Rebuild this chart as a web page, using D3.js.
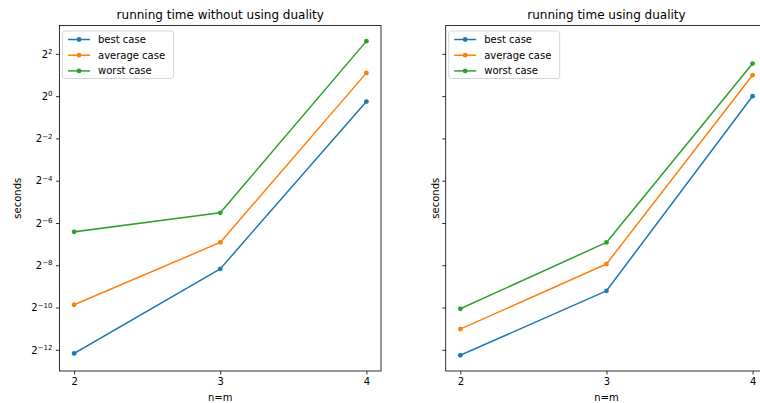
<!DOCTYPE html>
<html>
<head>
<meta charset="utf-8">
<script src="https://cdn.jsdelivr.net/npm/d3@7"></script>
<style>
  html, body { margin: 0; padding: 0; background: #fff; }
  svg { display: block; font-family: "DejaVu Sans", sans-serif; }
</style>
</head>
<body>
<svg id="chart" width="760" height="403"></svg>
<script>
// Problem size n=m on the x axis
const sizes = [2, 3, 4];
const seriesNames = ["best case", "average case", "worst case"];
const seriesColors = ["#1f77b4", "#ff7f0e", "#2ca02c"];

// Running times in seconds, without duality
const bestNoDual = [0.000217, 0.00347, 0.838];
const avgNoDual = [0.00107, 0.00826, 2.14];
const worstNoDual = [0.0117, 0.0218, 6.06];

// Running times in seconds, using duality
const bestDual = [0.000204, 0.00169, 1.0];
const avgDual = [0.000482, 0.00407, 1.99];
const worstDual = [0.000937, 0.00826, 2.91];

// Tick exponents for the base-2 log axis and x tick labels
const yTickExponents = [-12, -10, -8, -6, -4, -2, 0, 2];
const xTickLabels = ["2", "3", "4"];

const panels = [
  { title: "running time without using duality", series: [bestNoDual, avgNoDual, worstNoDual], left: 59.5, showYLabels: true },
  { title: "running time using duality", series: [bestDual, avgDual, worstDual], left: 445.7, showYLabels: false }
];

const svg = d3.select("#chart");
const axW = 321.5, axTop = 25.5, axBottom = 371;

// Shared y domain (log2) with 5% padding, like sharey
const allLogs = panels.flatMap(p => p.series.flat()).map(v => Math.log2(v));
const lmin = d3.min(allLogs), lmax = d3.max(allLogs);
const pad = (lmax - lmin) * 0.05;
const y = d3.scaleLog().base(2)
  .domain([Math.pow(2, lmin - pad), Math.pow(2, lmax + pad)])
  .range([axBottom, axTop]);

const xPad = (sizes[sizes.length - 1] - sizes[0]) * 0.05;

panels.forEach(p => {
  const x = d3.scaleLinear()
    .domain([sizes[0] - xPad, sizes[sizes.length - 1] + xPad])
    .range([p.left, p.left + axW]);

  const g = svg.append("g");

  // clip for the plotting area
  const clipId = "clip" + Math.round(p.left);
  svg.append("clipPath").attr("id", clipId)
    .append("rect").attr("x", p.left).attr("y", axTop).attr("width", axW).attr("height", axBottom - axTop);

  // series lines and markers
  const plot = g.append("g").attr("clip-path", `url(#${clipId})`);
  const line = d3.line().x((d, i) => x(sizes[i])).y(d => y(d));
  p.series.forEach((vals, si) => {
    plot.append("path").datum(vals)
      .attr("d", line)
      .attr("fill", "none")
      .attr("stroke", seriesColors[si])
      .attr("stroke-width", 1.5)
      .attr("stroke-linejoin", "round")
      .attr("stroke-linecap", "square");
    plot.selectAll(null).data(vals).enter().append("circle")
      .attr("cx", (d, i) => x(sizes[i]))
      .attr("cy", d => y(d))
      .attr("r", 2.4)
      .attr("fill", seriesColors[si]);
  });

  // x axis
  const xAxis = d3.axisBottom(x).tickValues(sizes)
    .tickFormat((d, i) => xTickLabels[i]).tickSize(3.5).tickPadding(3.5);
  const gx = g.append("g").attr("transform", `translate(0,${axBottom})`).call(xAxis);
  gx.select(".domain").remove();
  gx.selectAll("line").attr("stroke", "#000").attr("stroke-width", 0.8);
  gx.selectAll("text").attr("font-size", 10).attr("fill", "#000")
    .attr("font-family", "DejaVu Sans, sans-serif");

  // y axis
  const yAxis = d3.axisLeft(y).tickValues(yTickExponents.map(e => Math.pow(2, e)))
    .tickSize(3.5).tickPadding(3.5).tickFormat("");
  const gy = g.append("g").attr("transform", `translate(${p.left},0)`).call(yAxis);
  gy.select(".domain").remove();
  gy.selectAll("line").attr("stroke", "#000").attr("stroke-width", 0.8);
  if (p.showYLabels) {
    gy.selectAll(".tick").each(function(d, i) {
      const t = d3.select(this).append("text")
        .attr("x", -7).attr("dy", "0.32em")
        .attr("text-anchor", "end").attr("fill", "#000")
        .attr("font-size", 10).attr("font-family", "DejaVu Sans, sans-serif");
      t.append("tspan").text("2");
      const e = yTickExponents[i];
      t.append("tspan").attr("font-size", 7).attr("dy", "-0.5em")
        .text(e < 0 ? "\u2212" + Math.abs(e) : String(e));
    });
  }

  // spines
  g.append("rect")
    .attr("x", p.left).attr("y", axTop).attr("width", axW).attr("height", axBottom - axTop)
    .attr("fill", "none").attr("stroke", "#000").attr("stroke-width", 0.8);

  // title
  g.append("text")
    .attr("x", p.left + axW / 2).attr("y", 19)
    .attr("text-anchor", "middle").attr("font-size", 12).attr("fill", "#000")
    .text(p.title);

  // axis labels
  g.append("text")
    .attr("x", p.left + axW / 2).attr("y", 401)
    .attr("text-anchor", "middle").attr("font-size", 10).attr("fill", "#000")
    .text("n=m");
  g.append("text")
    .attr("transform", `translate(${p.left - (p.showYLabels ? 38.5 : 7)},${(axTop + axBottom) / 2}) rotate(-90)`)
    .attr("text-anchor", "middle").attr("font-size", 10).attr("fill", "#000")
    .text("seconds");

  // legend
  const lg = g.append("g").attr("transform", `translate(${p.left + 3},${axTop + 5.5})`);
  lg.append("rect")
    .attr("x", 0).attr("y", 0).attr("width", 111).attr("height", 47.5)
    .attr("rx", 2.5).attr("fill", "#fff").attr("fill-opacity", 0.8)
    .attr("stroke", "#ccc").attr("stroke-width", 0.8);
  seriesNames.forEach((name, si) => {
    const ly = 8.5 + si * 15.7;
    lg.append("line").attr("x1", 5.5).attr("x2", 27.5).attr("y1", ly).attr("y2", ly)
      .attr("stroke", seriesColors[si]).attr("stroke-width", 1.5);
    lg.append("circle").attr("cx", 16.5).attr("cy", ly).attr("r", 2.4).attr("fill", seriesColors[si]);
    lg.append("text").attr("x", 35.5).attr("y", ly).attr("dy", "0.35em")
      .attr("font-size", 10).attr("fill", "#000").text(name);
  });
});
</script>
</body>
</html>
